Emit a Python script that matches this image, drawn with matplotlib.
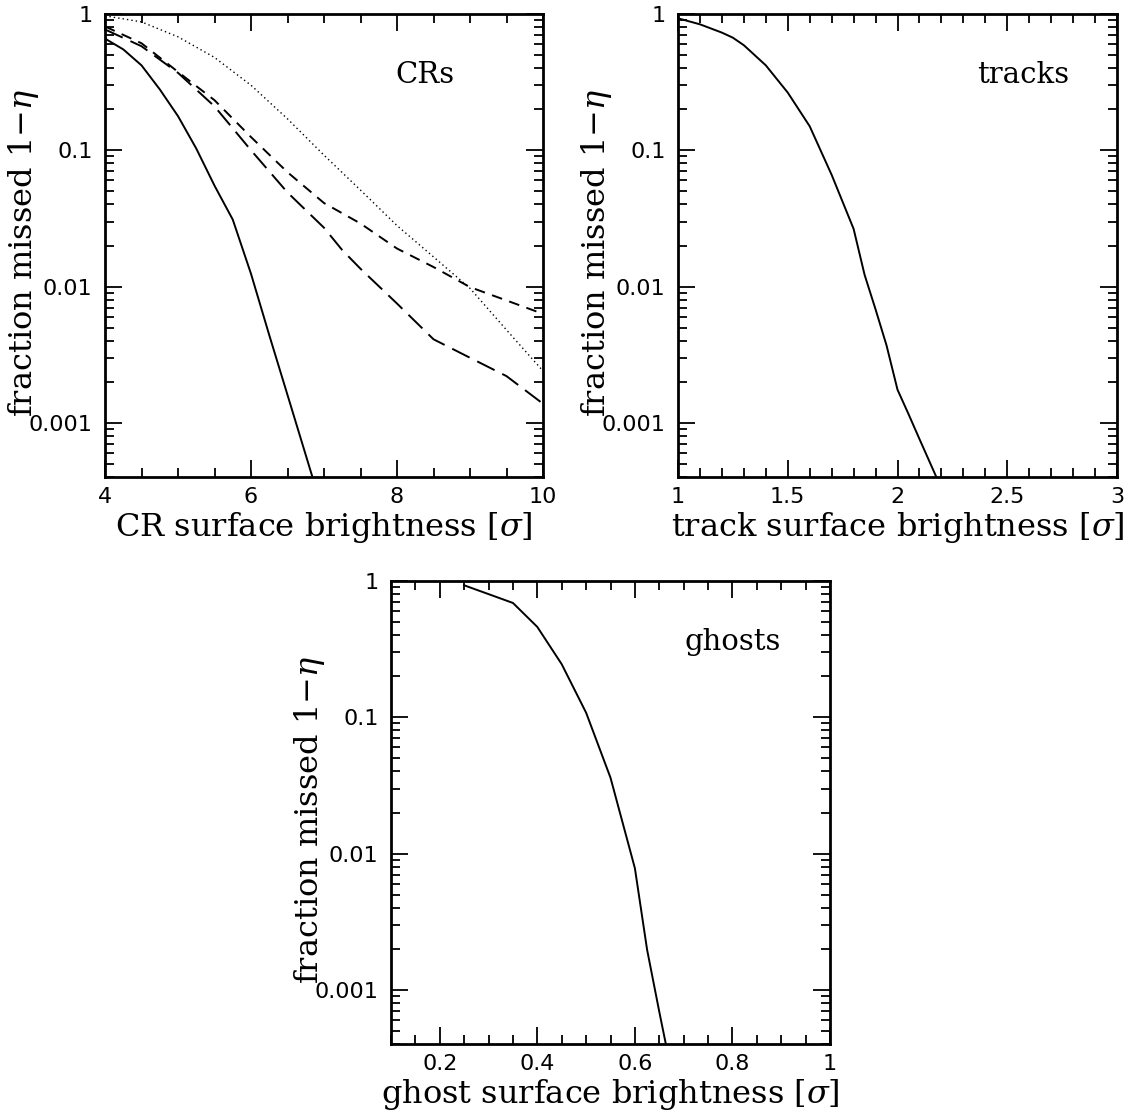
import numpy as np
import matplotlib
matplotlib.use('Agg')
import matplotlib.pyplot as plt
from matplotlib.ticker import FixedLocator, FixedFormatter, MultipleLocator, LogLocator, NullFormatter

# Dados (fracao perdida 1-eta)
cr_x = [4.0, 4.25, 4.5, 4.75, 5.0, 5.25, 5.5, 5.75, 6.0, 6.25, 6.5, 6.75, 7.0]
cr_solid = [0.66, 0.55, 0.42, 0.28, 0.178, 0.103, 0.055, 0.031, 0.0124, 0.0044, 0.0016, 0.00058, 0.00021]

cr_x2 = [4.0, 4.5, 5.0, 5.5, 6.0, 6.5, 7.0, 7.5, 8.0, 8.5, 9.0, 9.5, 10.0]
cr_short = [0.81, 0.61, 0.376, 0.233, 0.125, 0.069, 0.041, 0.029, 0.019, 0.0139, 0.0099, 0.0079, 0.0063]
cr_dotted = [0.97, 0.875, 0.68, 0.48, 0.30, 0.170, 0.092, 0.051, 0.028, 0.0165, 0.0097, 0.0048, 0.0024]

cr_x3 = [4.0, 4.5, 5.0, 5.5, 6.0, 6.5, 7.0, 7.25, 7.5, 8.0, 8.5, 9.0, 9.5, 10.0]
cr_long = [0.77, 0.58, 0.37, 0.21, 0.10, 0.049, 0.027, 0.0185, 0.0135, 0.0075, 0.0041, 0.003, 0.0022, 0.00138]

trk_x = [1.0, 1.1, 1.2, 1.25, 1.3, 1.4, 1.5, 1.6, 1.7, 1.8, 1.85, 1.9, 1.95, 2.0, 2.05, 2.1, 2.2]
trk_y = [0.93, 0.84, 0.73, 0.67, 0.59, 0.42, 0.265, 0.15, 0.066, 0.0265, 0.0122, 0.0068, 0.0037,
         0.00175, 0.00116, 0.00076, 0.00033]

gh_x = [0.25, 0.35, 0.40, 0.45, 0.50, 0.55, 0.60, 0.625, 0.65, 0.675]
gh_y = [0.93, 0.69, 0.46, 0.245, 0.108, 0.036, 0.0078, 0.00197, 0.00069, 0.00025]

ytick_vals = [1, 0.1, 0.01, 0.001]
ytick_labels = ['1', '0.1', '0.01', '0.001']

ylab = r'fraction missed 1$-\eta$'

plt.rcParams['mathtext.fontset'] = 'dejavuserif'

fig = plt.figure(figsize=(11.42, 11.18), dpi=100)
W, H = 1142, 1118


def make_axes(left, top, right, bottom):
    return fig.add_axes([left / W, 1 - bottom / H, (right - left) / W, (bottom - top) / H])


def style(ax, xlim, xmajor, xminor, xlabel, tag, tagx):
    ax.set_yscale('log')
    ax.set_xlim(*xlim)
    ax.set_ylim(4.0e-4, 1.0)
    ax.xaxis.set_major_locator(MultipleLocator(xmajor))
    ax.xaxis.set_minor_locator(MultipleLocator(xminor))
    ax.yaxis.set_major_locator(FixedLocator(ytick_vals))
    ax.yaxis.set_major_formatter(FixedFormatter(ytick_labels))
    ax.yaxis.set_minor_locator(LogLocator(base=10, subs=np.arange(2, 10)))
    ax.yaxis.set_minor_formatter(NullFormatter())
    ax.tick_params(which='both', direction='in', top=True, right=True, width=1.3)
    ax.tick_params(which='major', length=12)
    ax.tick_params(which='minor', length=6.5)
    ax.tick_params(axis='x', which='major', pad=7, labelsize=16)
    ax.tick_params(axis='y', which='major', pad=9, labelsize=16)
    for s in ax.spines.values():
        s.set_linewidth(2)
    ax.set_xlabel(xlabel, family='DejaVu Serif', fontsize=23, labelpad=2)
    ax.set_ylabel(ylab, family='DejaVu Serif', fontsize=23)
    ax.yaxis.set_label_coords(-0.146, 0.485)
    ax.text(tagx, 0.85, tag, transform=ax.transAxes, ha='center', va='baseline',
            family='DejaVu Serif', fontsize=21)


# Painel CRs
ax1 = make_axes(105, 14, 543, 477)
ax1.plot(cr_x, cr_solid, color='black', lw=1.4)
ax1.plot(cr_x2, cr_short, color='black', lw=1.4, dashes=(5.5, 3.9))
ax1.plot(cr_x3, cr_long, color='black', lw=1.4, dashes=(10, 4.4))
ax1.plot(cr_x2, cr_dotted, color='black', lw=1.0, dashes=(1, 2.2))
style(ax1, (4, 10), 2, 0.5, r'CR surface brightness [$\sigma$]', 'CRs', 0.73)

# Painel tracks
ax2 = make_axes(678, 14, 1117, 477)
ax2.plot(trk_x, trk_y, color='black', lw=1.4)
style(ax2, (1, 3), 0.5, 0.1, r'track surface brightness [$\sigma$]', 'tracks', 0.786)
ax2.xaxis.set_major_locator(FixedLocator([1, 1.5, 2, 2.5, 3]))
ax2.xaxis.set_major_formatter(FixedFormatter(['1', '1.5', '2', '2.5', '3']))

# Painel ghosts
ax3 = make_axes(391, 581, 830, 1044)
ax3.plot(gh_x, gh_y, color='black', lw=1.4)
style(ax3, (0.1, 1.0), 0.2, 0.05, r'ghost surface brightness [$\sigma$]', 'ghosts', 0.779)
ax3.xaxis.set_major_locator(FixedLocator([0.2, 0.4, 0.6, 0.8, 1.0]))
ax3.xaxis.set_major_formatter(FixedFormatter(['0.2', '0.4', '0.6', '0.8', '1']))

fig.savefig('out.png', dpi=100)
